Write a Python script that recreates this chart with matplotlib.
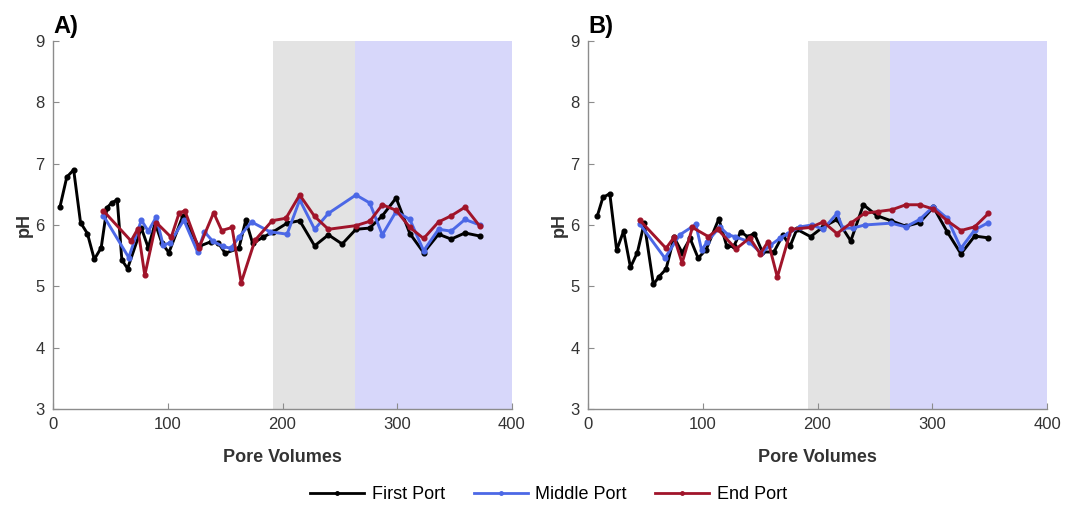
import matplotlib
matplotlib.use("Agg")
import matplotlib.pyplot as plt
from matplotlib.lines import Line2D

plt.rcParams['font.family'] = ['Liberation Sans', 'DejaVu Sans']

# ---- Data (Panel A) ----
a_first_x = [6, 12, 18, 24, 30, 36, 42, 47, 51, 56, 60, 65, 77, 83, 89, 95, 101, 113, 127, 138, 144, 150, 162, 168, 174, 183, 192, 204, 215, 228, 240, 252, 264, 276, 287, 299, 311, 323, 336, 347, 359, 372]
a_first_y = [6.29, 6.78, 6.90, 6.04, 5.86, 5.44, 5.63, 6.28, 6.36, 6.41, 5.43, 5.29, 5.95, 5.63, 6.03, 5.70, 5.55, 6.14, 5.65, 5.73, 5.71, 5.54, 5.62, 6.08, 5.70, 5.80, 5.89, 6.03, 6.07, 5.66, 5.84, 5.69, 5.93, 5.95, 6.15, 6.44, 5.86, 5.55, 5.85, 5.77, 5.87, 5.82]

a_mid_x = [44, 66, 77, 83, 90, 96, 102, 114, 126, 132, 139, 148, 155, 162, 173, 189, 204, 215, 228, 240, 264, 276, 287, 299, 311, 323, 336, 347, 359, 372]
a_mid_y = [6.15, 5.47, 6.08, 5.90, 6.13, 5.67, 5.71, 6.08, 5.56, 5.89, 5.74, 5.65, 5.62, 5.80, 6.05, 5.89, 5.85, 6.41, 5.93, 6.19, 6.49, 6.36, 5.84, 6.22, 6.09, 5.58, 5.93, 5.90, 6.09, 6.00]

a_end_x = [44, 68, 74, 80, 90, 103, 110, 115, 127, 140, 147, 156, 164, 176, 191, 203, 215, 228, 240, 264, 276, 287, 299, 311, 323, 336, 347, 359, 372]
a_end_y = [6.23, 5.74, 5.94, 5.18, 6.04, 5.80, 6.20, 6.23, 5.62, 6.20, 5.91, 5.96, 5.06, 5.75, 6.07, 6.11, 6.49, 6.14, 5.93, 5.99, 6.06, 6.33, 6.24, 5.96, 5.78, 6.05, 6.15, 6.29, 5.98]

# ---- Data (Panel B) ----
b_first_x = [8, 13, 19, 25, 31, 37, 43, 49, 57, 62, 68, 75, 82, 89, 96, 103, 114, 121, 127, 133, 139, 145, 152, 162, 170, 176, 182, 194, 205, 217, 229, 240, 252, 264, 277, 289, 301, 313, 325, 337, 349]
b_first_y = [6.14, 6.45, 6.51, 5.59, 5.90, 5.31, 5.55, 6.03, 5.03, 5.16, 5.28, 5.80, 5.55, 5.78, 5.46, 5.60, 6.10, 5.65, 5.65, 5.89, 5.81, 5.86, 5.56, 5.56, 5.84, 5.65, 5.93, 5.81, 5.97, 6.09, 5.74, 6.33, 6.15, 6.07, 5.98, 6.04, 6.29, 5.89, 5.53, 5.82, 5.79]

b_mid_x = [45, 67, 80, 94, 99, 104, 115, 122, 128, 140, 151, 159, 167, 174, 185, 195, 205, 217, 222, 231, 241, 264, 277, 289, 301, 313, 325, 337, 349]
b_mid_y = [6.02, 5.46, 5.84, 6.01, 5.59, 5.73, 5.97, 5.84, 5.81, 5.73, 5.54, 5.67, 5.78, 5.86, 5.97, 6.00, 5.93, 6.19, 5.95, 5.95, 6.00, 6.03, 5.97, 6.09, 6.30, 6.11, 5.62, 5.92, 6.04]

b_end_x = [45, 68, 75, 82, 91, 105, 113, 129, 141, 150, 157, 165, 177, 194, 205, 217, 229, 241, 253, 265, 277, 289, 301, 313, 325, 337, 349]
b_end_y = [6.08, 5.62, 5.80, 5.38, 5.96, 5.81, 5.93, 5.61, 5.79, 5.53, 5.73, 5.15, 5.93, 5.96, 6.05, 5.86, 6.03, 6.19, 6.22, 6.25, 6.33, 6.33, 6.26, 6.07, 5.91, 5.97, 6.19]

series_names = ['First Port', 'Middle Port', 'End Port']
panel_labels = ['A)', 'B)']
gray_span = (192, 263)
blue_span = (263, 400)
x_ticks = [0, 100, 200, 300, 400]
y_ticks = [3, 4, 5, 6, 7, 8, 9]

colors = ['#000000', '#4C68E6', '#A0142A']
axis_color = '#8C8C8C'

fig = plt.figure(figsize=(10.65, 5.08), dpi=100)
ax_a = fig.add_axes([53/1065, 1-409/508, 459/1065, 368/508])
ax_b = fig.add_axes([588/1065, 1-409/508, 459/1065, 368/508])

panels = [
    (ax_a, [(a_first_x, a_first_y), (a_mid_x, a_mid_y), (a_end_x, a_end_y)]),
    (ax_b, [(b_first_x, b_first_y), (b_mid_x, b_mid_y), (b_end_x, b_end_y)]),
]

for i, (ax, data) in enumerate(panels):
    ax.axvspan(*gray_span, color='#E3E3E3', lw=0, zorder=0)
    ax.axvspan(*blue_span, color='#D7D7FA', lw=0, zorder=0)
    for (xs, ys), c in zip(data, colors):
        ax.plot(xs, ys, color=c, lw=2.1, marker='o', ms=3.4, zorder=3)
    ax.set_xlim(0, 400)
    ax.set_ylim(3, 9)
    ax.set_xticks(x_ticks)
    ax.set_yticks(y_ticks)
    for s in ['top', 'right']:
        ax.spines[s].set_visible(False)
    for s in ['left', 'bottom']:
        ax.spines[s].set_color(axis_color)
        ax.spines[s].set_linewidth(1.0)
    ax.tick_params(direction='in', length=4, color=axis_color, labelsize=12,
                   labelcolor='#333333', pad=6)
    ax.set_xlabel('Pore Volumes', fontsize=13, fontweight='bold', color='#333333', labelpad=12)
    ax.set_ylabel('pH', fontsize=13, fontweight='bold', color='#333333', labelpad=2)
    ax.text(0.0, 1.022, panel_labels[i], transform=ax.transAxes, ha='left', va='baseline',
            fontsize=17, fontweight='bold')

handles = [Line2D([], [], color=c, lw=2.0, marker='o', ms=2.5) for c in colors]
fig.legend(handles, series_names, loc='center', bbox_to_anchor=(0.515, 0.026), ncol=3,
           frameon=False, fontsize=13, handlelength=3.0, handletextpad=0.4,
           columnspacing=1.6, numpoints=1)

fig.savefig('out.png', dpi=100)
